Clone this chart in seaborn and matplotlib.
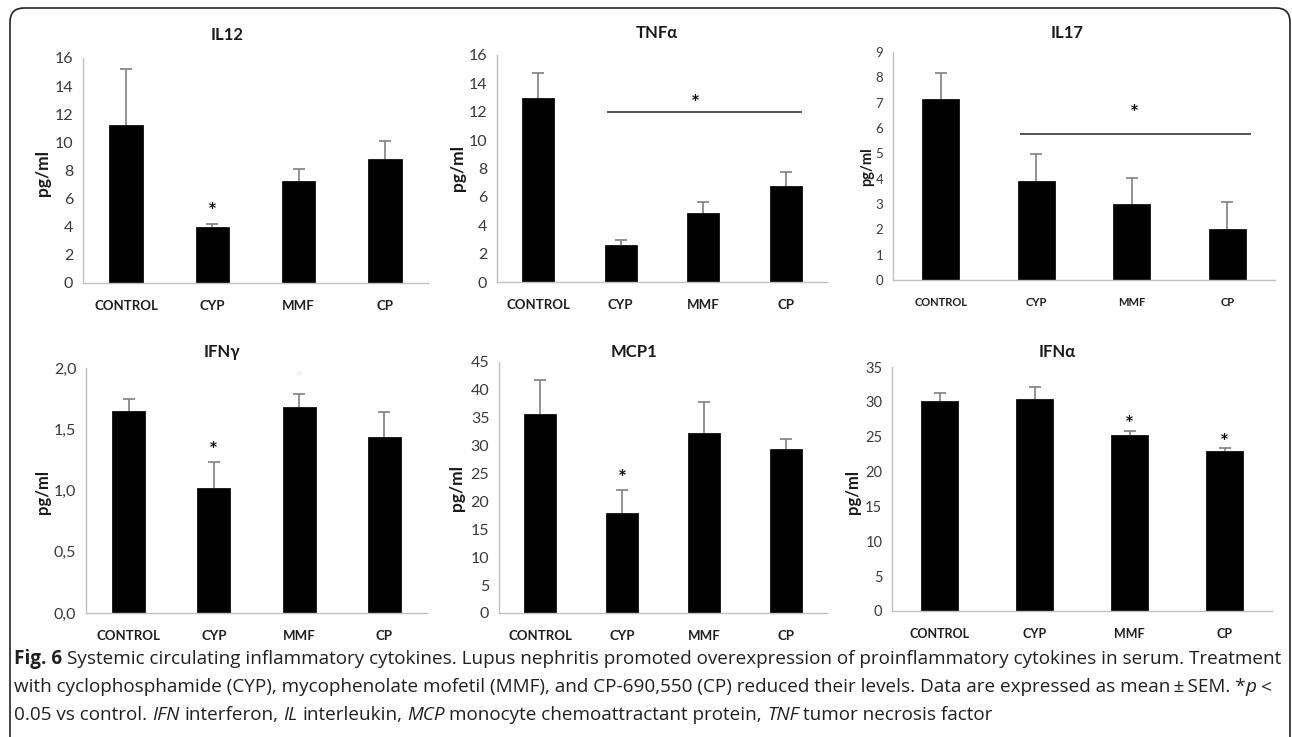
import numpy as np
import pandas as pd
import matplotlib
matplotlib.use("Agg")
import matplotlib.pyplot as plt
import seaborn as sns
from matplotlib.patches import FancyBboxPatch
from matplotlib.transforms import IdentityTransform

# ---------------- data ----------------
categories = ["CONTROL", "CYP", "MMF", "CP"]

il12_mean = [11.2, 4.0, 7.25, 8.8]
il12_sem = [4.0, 0.2, 0.85, 1.3]

tnfa_mean = [13.0, 2.63, 4.86, 6.75]
tnfa_sem = [1.75, 0.3, 0.75, 0.97]

il17_mean = [7.13, 3.92, 3.0, 2.03]
il17_sem = [1.03, 1.05, 1.01, 1.05]

ifng_mean = [1.65, 1.02, 1.68, 1.44]
ifng_sem = [0.095, 0.21, 0.105, 0.20]

mcp1_mean = [35.6, 17.9, 32.2, 29.35]
mcp1_sem = [6.1, 4.15, 5.6, 1.85]

ifna_mean = [30.1, 30.4, 25.3, 22.9]
ifna_sem = [1.2, 1.8, 0.5, 0.5]

# significance marks: (x in category units, y in data units)
il12_stars = [(1, 5.55)]
tnfa_stars = [(1.91, 13.05)]
il17_stars = [(2.03, 6.83)]
ifng_stars = [(1, 1.38)]
mcp1_stars = [(1, 25.2)]
ifna_stars = [(2, 27.7), (3, 25.1)]

tnfa_bracket = (0.83, 3.2, 12.0)
il17_bracket = (0.83, 3.25, 5.78)

titles = ["IL12", "TNFα", "IL17", "IFNγ", "MCP1", "IFNα"]
ylabel = "pg/ml"

caption_lines = [
    [("Fig. 6", "bold"), (" Systemic circulating inflammatory cytokines. Lupus nephritis promoted overexpression of proinflammatory cytokines in serum. Treatment", "normal")],
    [("with cyclophosphamide (CYP), mycophenolate mofetil (MMF), and CP-690,550 (CP) reduced their levels. Data are expressed as mean\u2009±\u2009SEM. *", "normal"), ("p", "italic"), (" <", "normal")],
    [("0.05 vs control. ", "normal"), ("IFN", "italic"), (" interferon, ", "normal"), ("IL", "italic"), (" interleukin, ", "normal"),
     ("MCP", "italic"), (" monocyte chemoattractant protein, ", "normal"), ("TNF", "italic"), (" tumor necrosis factor", "normal")],
]

# ---------------- layout ----------------
W, H = 1292, 737
sns.set_style("white")
plt.rcParams["font.family"] = ["Lato", "DejaVu Sans"]

fig = plt.figure(figsize=(W / 100, H / 100), dpi=100)
fig.patch.set_facecolor("white")

panels = [
    dict(title=0, mean=il12_mean, sem=il12_sem, stars=il12_stars, bracket=None,
         box=(83, 428, 283, 58), ymax=16, step=2, fmt="{:.0f}", tsize=11.5, xsize=9.5, bounds=False,
         title_xy=(227, 35), ylab_xy=(43, 173), ysize=12.5),
    dict(title=1, mean=tnfa_mean, sem=tnfa_sem, stars=tnfa_stars, bracket=tnfa_bracket,
         box=(497, 827, 282, 55), ymax=16, step=2, fmt="{:.0f}", tsize=11.5, xsize=9.5, bounds=False,
         title_xy=(657, 33), ylab_xy=(458, 168), ysize=12.5),
    dict(title=2, mean=il17_mean, sem=il17_sem, stars=il17_stars, bracket=il17_bracket,
         box=(893, 1275, 280, 52), ymax=9, step=1, fmt="{:.0f}", tsize=9.5, xsize=8.0, bounds=True,
         title_xy=(1067, 33), ylab_xy=(867, 167), ysize=10.5),
    dict(title=3, mean=ifng_mean, sem=ifng_sem, stars=ifng_stars, bracket=None,
         box=(86, 427, 613, 368), ymax=2.0, step=0.5, fmt="comma", tsize=11.5, xsize=9.5, bounds=False,
         title_xy=(222, 352), ylab_xy=(43, 492), ysize=12),
    dict(title=4, mean=mcp1_mean, sem=mcp1_sem, stars=mcp1_stars, bracket=None,
         box=(499, 827, 613, 362), ymax=45, step=5, fmt="{:.0f}", tsize=11.5, xsize=9.5, bounds=False,
         title_xy=(634, 352), ylab_xy=(457, 488), ysize=12.5),
    dict(title=5, mean=ifna_mean, sem=ifna_sem, stars=ifna_stars, bracket=None,
         box=(892, 1272, 611, 367), ymax=35, step=5, fmt="{:.0f}", tsize=10.5, xsize=9.0, bounds=True,
         title_xy=(1057, 352), ylab_xy=(853, 492), ysize=12),
]

axis_grey = "#c0c0c0"
for p in panels:
    x0, x1, yb, yt = p["box"]
    ax = fig.add_axes([x0 / W, 1 - yb / H, (x1 - x0) / W, (yb - yt) / H])
    df = pd.DataFrame({"group": categories, "value": p["mean"]})
    sns.barplot(data=df, x="group", y="value", color="black", saturation=1, width=0.39,
                errorbar=None, edgecolor="#111111", linewidth=0.6, ax=ax, zorder=2)
    xs = np.arange(len(categories))
    eb = ax.errorbar(xs, p["mean"], yerr=[np.zeros(len(xs)), p["sem"]], fmt="none",
                     ecolor="#7f7f7f", elinewidth=1.2, capsize=4, capthick=1.2, zorder=1)
    caps = eb[1]
    if len(caps) == 2:
        caps[0].set_visible(False)
    ax.set_xlim(-0.5, 3.5)
    ax.set_ylim(0, p["ymax"])
    ticks = np.arange(0, p["ymax"] + p["step"] / 2, p["step"])
    ax.set_yticks(ticks)
    if p["fmt"] == "comma":
        ax.set_yticklabels([f"{t:.1f}".replace(".", ",") for t in ticks])
    else:
        ax.set_yticklabels([p["fmt"].format(t) for t in ticks])
    for s in ["top", "right"]:
        ax.spines[s].set_visible(False)
    for s in ["left", "bottom"]:
        ax.spines[s].set_color(axis_grey)
        ax.spines[s].set_linewidth(1.0)
    ax.tick_params(axis="y", length=4, width=0.8, color=axis_grey, labelsize=p["tsize"],
                   labelcolor="#3a3a3a", pad=3)
    ax.tick_params(axis="x", which="major", length=0, labelsize=p["xsize"], labelcolor="#1e1e1e", pad=12)
    for lab in ax.get_xticklabels():
        lab.set_fontweight("bold")
    if p["bounds"]:
        ax.set_xticks(np.arange(-0.5, 4.0, 1.0), minor=True)
        ax.tick_params(axis="x", which="minor", length=5, width=0.8, color=axis_grey)
    ax.set_xlabel("")
    ax.set_ylabel("")
    ax.grid(False)
    ax.set_facecolor("none")
    if p["bracket"] is not None:
        bx0, bx1, by = p["bracket"]
        ax.plot([bx0, bx1], [by, by], color="#555555", lw=1.4, zorder=3, solid_capstyle="butt")
    for sx, sy in p["stars"]:
        ax.annotate("*", (sx, sy), xytext=(0, -5), textcoords="offset points",
                    ha="center", va="center", fontsize=15, fontweight="bold", color="#111111")
    if p["title"] == 3:
        ax.annotate("*", (2, 1.96), xytext=(0, -5), textcoords="offset points",
                    ha="center", va="center", fontsize=15, color="#ececec")
    tx, ty = p["title_xy"]
    fig.text(tx / W, 1 - ty / H, titles[p["title"]], ha="center", va="center",
             fontsize=12, fontweight="bold", color="#1a1a1a")
    lx, ly = p["ylab_xy"]
    fig.text(lx / W, 1 - ly / H, ylabel, ha="center", va="center", rotation=90,
             fontsize=p["ysize"], fontweight="bold", color="#1a1a1a")

# ---------------- caption ----------------
renderer = fig.canvas.get_renderer()
cap_font = ["Open Sans", "DejaVu Sans"]
cap_size = 13.55
cap_color = "#231f20"


def text_w(s, style):
    t = fig.text(0, 0, s, fontsize=cap_size, family=cap_font,
                 fontweight="bold" if style == "bold" else "normal",
                 fontstyle="italic" if style == "italic" else "normal")
    w = t.get_window_extent(renderer).width
    t.remove()
    return w


space_w = text_w("x x", "normal") - text_w("xx", "normal")

baselines = [664, 692, 720]
for line, base in zip(caption_lines, baselines):
    x = 14.0
    for s, style in line:
        lead = len(s) - len(s.lstrip(" "))
        trail = len(s) - len(s.rstrip(" "))
        core = s.strip(" ")
        x += lead * space_w
        t = fig.text(x / W, 1 - base / H, core, fontsize=cap_size, family=cap_font,
                     fontweight="bold" if style == "bold" else "normal",
                     fontstyle="italic" if style == "italic" else "normal",
                     color=cap_color, ha="left", va="baseline")
        x += t.get_window_extent(renderer).width + trail * space_w

# ---------------- frame ----------------
frame = FancyBboxPatch((10, -40), 1280, 729 + 40, boxstyle="round,pad=0,rounding_size=14",
                       transform=IdentityTransform(), facecolor="none", edgecolor="#222222",
                       linewidth=1.2)
fig.patches.append(frame)

fig.savefig("out.png", dpi=100, facecolor="white")
